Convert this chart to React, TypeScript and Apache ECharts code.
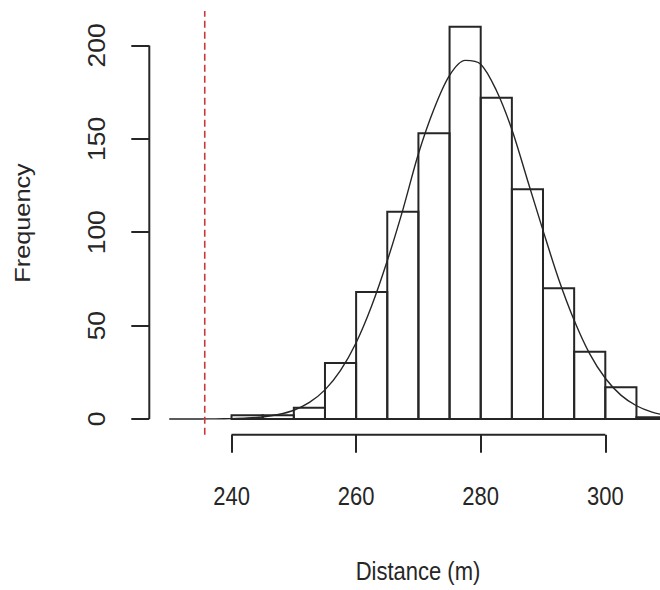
import React, { useEffect, useRef } from "react";
import * as echarts from "echarts";

// Histogram bins: [start, end] in metres and their counts
const binStarts = [240, 245, 250, 255, 260, 265, 270, 275, 280, 285, 290, 295, 300, 305];
const binEnds = [245, 250, 255, 260, 265, 270, 275, 280, 285, 290, 295, 300, 305, 310];
const binCounts = [2, 2, 6, 30, 68, 111, 153, 210, 172, 123, 70, 36, 17, 1];

// Fitted density curve, scaled to counts
const curveX = [
  230, 232.5, 235, 237.5, 240, 242.5, 245, 247.5, 250, 252.5, 255, 257.5, 260, 262.5, 265,
  267.5, 270, 272.5, 275, 277.5, 280, 282.5, 285, 287.5, 290, 292.5, 295, 297.5, 300,
  302.5, 305, 307.5, 310,
];
const curveY = [
  0, 0.01, 0.03, 0.09, 0.22, 0.51, 1.1, 2.4, 4.7, 8.9, 15.6, 26, 40.8, 60.6, 84.7,
  112, 142, 166, 184, 192, 190, 176, 155, 128, 101, 75, 52.9, 34.9, 21.8,
  12.8, 7.1, 3.7, 1.8,
];

// Reference distance marked with a dashed line
const refDistance = [235.7];

const xTicks = [240, 260, 280, 300];
const yTicks = [0, 50, 100, 150, 200];

const X_MIN = 226.8;
const X_MAX = 308.78;
const Y_MIN = -8.4;
const Y_MAX = 218.4;

const INK = "#262626";
const FONT = "'Liberation Sans', Arial, sans-serif";
const STRETCH = 1.15; // glyphs are drawn slightly taller than wide

export default function App() {
  const ref = useRef<HTMLDivElement>(null);

  useEffect(() => {
    if (!ref.current) return;
    const chart = echarts.init(ref.current, undefined, { renderer: "svg" });

    const bars = binStarts.map((s, i) => [s, binEnds[i], binCounts[i]]);
    const curve = curveX.map((x, i) => [x, curveY[i]]);

    const axisCommon = {
      type: "value",
      splitLine: { show: false },
      axisLine: { show: false, onZero: false },
      axisLabel: { show: false },
    };

    chart.setOption({
      animation: false,
      backgroundColor: "#ffffff",
      grid: { left: 149.3, top: 11.1, right: 0, height: 423.6 },
      xAxis: {
        ...axisCommon,
        min: X_MIN,
        max: X_MAX,
        axisTick: {
          show: true,
          customValues: xTicks,
          length: 18,
          lineStyle: { color: INK, width: 2 },
        },
      },
      yAxis: {
        ...axisCommon,
        min: Y_MIN,
        max: Y_MAX,
        axisTick: {
          show: true,
          customValues: yTicks,
          length: 18,
          lineStyle: { color: INK, width: 2 },
        },
      },
      graphic: [
        {
          type: "text",
          x: 23,
          y: 223,
          rotation: Math.PI / 2,
          scaleX: STRETCH,
          style: {
            text: "Frequency",
            font: `22px ${FONT}`,
            fill: INK,
            align: "center",
            verticalAlign: "middle",
          },
        },
        {
          type: "text",
          x: 418,
          y: 571,
          scaleY: STRETCH,
          style: {
            text: "Distance (m)",
            font: `22px ${FONT}`,
            fill: INK,
            align: "center",
            verticalAlign: "middle",
          },
        },
      ],
      series: [
        {
          type: "custom",
          data: bars,
          encode: { x: [0, 1], y: 2 },
          silent: true,
          clip: false,
          renderItem: (params: any, api: any) => {
            const top = api.coord([api.value(0), api.value(2)]);
            const bottom = api.coord([api.value(1), 0]);
            return {
              type: "rect",
              shape: {
                x: top[0],
                y: top[1],
                width: bottom[0] - top[0],
                height: bottom[1] - top[1],
              },
              style: { fill: "none", stroke: INK, lineWidth: 2 },
            };
          },
        },
        {
          type: "line",
          data: curve,
          smooth: 0.3,
          symbol: "none",
          silent: true,
          clip: false,
          lineStyle: { color: INK, width: 1.4 },
        },
        {
          // x axis segment spanning the labelled ticks
          type: "line",
          data: [
            [xTicks[0], Y_MIN],
            [xTicks[xTicks.length - 1], Y_MIN],
          ],
          symbol: "none",
          silent: true,
          clip: false,
          lineStyle: { color: INK, width: 2 },
        },
        {
          // y axis segment spanning the labelled ticks
          type: "line",
          data: [
            [X_MIN, yTicks[0]],
            [X_MIN, yTicks[yTicks.length - 1]],
          ],
          symbol: "none",
          silent: true,
          clip: false,
          lineStyle: { color: INK, width: 2 },
        },
        {
          // x tick labels
          type: "custom",
          data: xTicks.map((v) => [v, Y_MIN]),
          encode: { x: 0, y: 1 },
          silent: true,
          clip: false,
          renderItem: (params: any, api: any) => {
            const p = api.coord([api.value(0), api.value(1)]);
            return {
              type: "text",
              x: p[0],
              y: p[1] + 62,
              scaleY: STRETCH,
              style: {
                text: String(api.value(0)),
                font: `22px ${FONT}`,
                fill: INK,
                align: "center",
                verticalAlign: "middle",
              },
            };
          },
        },
        {
          // y tick labels, written along the axis
          type: "custom",
          data: yTicks.map((v) => [X_MIN, v]),
          encode: { x: 0, y: 1 },
          silent: true,
          clip: false,
          renderItem: (params: any, api: any) => {
            const p = api.coord([api.value(0), api.value(1)]);
            return {
              type: "text",
              x: p[0] - 52,
              y: p[1],
              rotation: Math.PI / 2,
              scaleX: STRETCH,
              style: {
                text: String(api.value(1)),
                font: `23px ${FONT}`,
                fill: INK,
                align: "center",
                verticalAlign: "middle",
              },
            };
          },
        },
        {
          type: "line",
          data: [
            [refDistance[0], Y_MIN],
            [refDistance[0], Y_MAX],
          ],
          symbol: "none",
          silent: true,
          clip: false,
          lineStyle: { color: "#c8383c", width: 1.6, type: [7, 4] },
        },
      ],
    });

    return () => chart.dispose();
  }, []);

  return (
    <div
      ref={ref}
      style={{ position: "absolute", left: 0, top: 0, width: 660, height: 590 }}
    />
  );
}
